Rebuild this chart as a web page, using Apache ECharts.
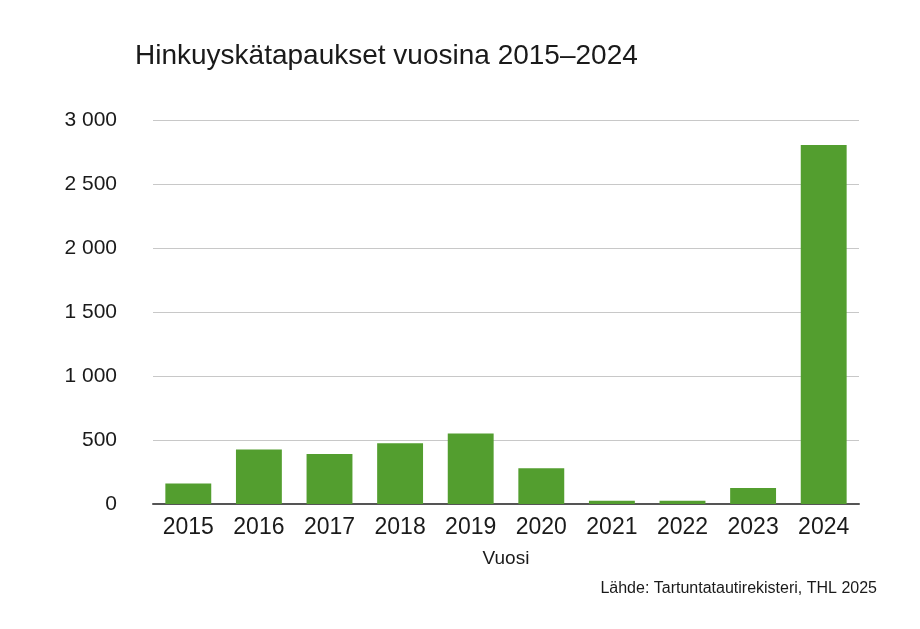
<!DOCTYPE html>
<html><head><meta charset="utf-8">
<script src="https://cdn.jsdelivr.net/npm/echarts@6/dist/echarts.min.js"></script>
<style>html,body{margin:0;padding:0;background:#fff}#c{width:920px;height:629px}</style>
</head><body><div id="c"></div>
<script>
const categories = ['2015','2016','2017','2018','2019','2020','2021','2022','2023','2024'];
const cases = [160, 425, 390, 475, 550, 280, 25, 25, 125, 2805];
const yTicks = [0, 500, 1000, 1500, 2000, 2500, 3000];
const chart = echarts.init(document.getElementById('c'));
const fmt = v => String(v).replace(/\B(?=(\d{3})+(?!\d))/g, ' ');
const F = 'Liberation Sans';
chart.setOption({
  animation: false,
  title: [{text: 'Hinkuyskätapaukset vuosina 2015–2024', left: 130, top: 37,
    textStyle: {fontFamily: F, fontSize: 28, fontWeight: 'normal', color: '#1a1a1a'}},
    {text: 'Lähde: Tartuntatautirekisteri, THL 2025', right: 38, top: 576,
    textStyle: {fontFamily: F, fontSize: 16, fontWeight: 'normal', color: '#1a1a1a'}}],
  grid: {left: 153, right: 61, top: 120, bottom: 125},
  xAxis: {type: 'category', data: categories, name: 'Vuosi', nameLocation: 'middle', nameGap: 45,
    nameTextStyle: {fontFamily: F, fontSize: 19, color: '#1a1a1a'},
    axisLine: {lineStyle: {color: '#555', width: 2}}, axisTick: {show: false},
    axisLabel: {fontFamily: F, fontSize: 23, color: '#1a1a1a', margin: 12}},
  yAxis: {type: 'value', min: yTicks[0], max: yTicks[yTicks.length-1], interval: 500,
    axisLabel: {fontFamily: F, fontSize: 21, color: '#1a1a1a', margin: 36, formatter: fmt},
    splitLine: {lineStyle: {color: '#c8c8c8', width: 1}}},
  series: [{type: 'bar', data: cases, barWidth: '65%', itemStyle: {color: '#539e2f'}}]
});
</script></body></html>
